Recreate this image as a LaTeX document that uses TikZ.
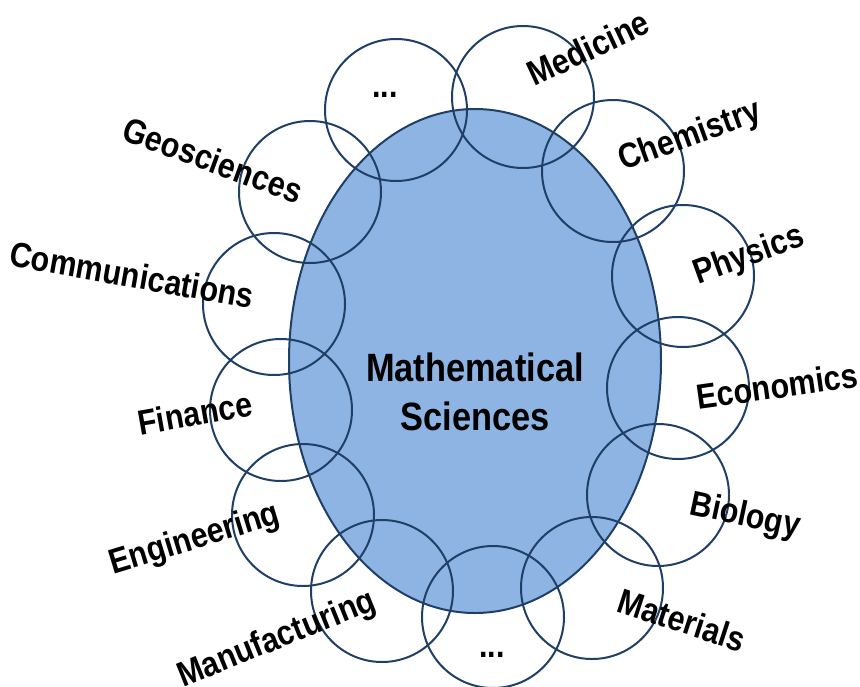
\documentclass[tikz,border=0pt]{standalone}
\usepackage{fontspec}
\usetikzlibrary{shapes.geometric}
\newfontfamily\lab{Liberation Sans}[FakeStretch=0.87]
\definecolor{mfill}{HTML}{8EB4E3}
\definecolor{mline}{HTML}{1F3F66}
\begin{document}
\begin{tikzpicture}[x=1pt,y=-1pt,
  fieldcirc/.style={circle, draw=mline, line width=2pt, minimum size=142pt, inner sep=0pt},
  fieldlab/.style={font=\lab\fontsize{35}{40}\selectfont\bfseries, inner sep=0pt, text=black},
  core/.style={ellipse, draw=mline, fill=mfill, line width=2pt, minimum width=372pt, minimum height=504pt, inner sep=0pt}]
\useasboundingbox (0,0) rectangle (860,686);
\node[core] (ms) at (475,361) {};
\node[font=\lab\fontsize{39.5}{49}\selectfont\bfseries, align=center, inner sep=0pt] (mst) at (475,392) {Mathematical\\Sciences};
% circles
\node[fieldcirc] (c1) at (396,110) {};
\node[fieldcirc] (c2) at (523,97) {};
\node[fieldcirc] (c3) at (613,171) {};
\node[fieldcirc] (c4) at (683,276) {};
\node[fieldcirc] (c5) at (678,388) {};
\node[fieldcirc] (c6) at (658,495) {};
\node[fieldcirc] (c7) at (592,588) {};
\node[fieldcirc] (c8) at (493,617) {};
\node[fieldcirc] (c9) at (382,591) {};
\node[fieldcirc] (c10) at (303,515) {};
\node[fieldcirc] (c11) at (281,410) {};
\node[fieldcirc] (c12) at (274,304) {};
\node[fieldcirc] (c13) at (310,192) {};
% labels
\node[fieldlab] (l1) at (385,95) {...};
\node[fieldlab, rotate=25] (l2) at (588,48) {Medicine};
\node[fieldlab, rotate=20] (l3) at (690,137) {Chemistry};
\node[fieldlab, rotate=20] (l4) at (749,256) {Physics};
\node[fieldlab, rotate=8] (l5) at (777,386) {Economics};
\node[fieldlab, rotate=-12] (l6) at (745,517) {Biology};
\node[fieldlab, rotate=-18] (l7) at (682,620) {Materials};
\node[fieldlab] (l8) at (492,655) {...};
\node[fieldlab, rotate=22] (l9) at (277,640) {Manufacturing};
\node[fieldlab, rotate=17] (l10) at (195,540) {Engineering};
\node[fieldlab, rotate=10] (l11) at (195,413) {Finance};
\node[fieldlab, rotate=-10] (l12) at (132,275) {Communications};
\node[fieldlab, rotate=-20] (l13) at (213,160) {Geosciences};
\end{tikzpicture}
\end{document}
